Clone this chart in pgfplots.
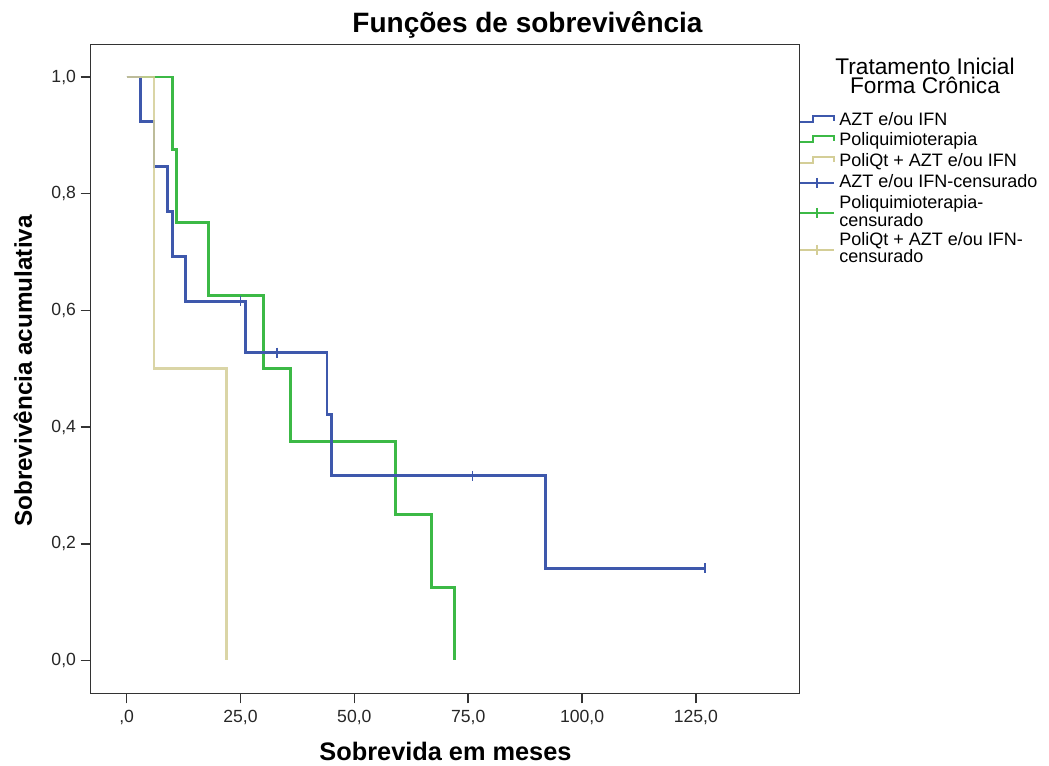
\documentclass[border=0pt]{standalone}
\usepackage{pgfplots}
\pgfplotsset{compat=1.18}
\usepackage{fontspec}
\setmainfont{Liberation Sans}
\definecolor{cblue}{RGB}{62,88,172}
\definecolor{cgreen}{RGB}{60,185,70}
\definecolor{ctan}{RGB}{212,206,151}
\definecolor{caxis}{RGB}{51,51,51}
\begin{document}
\begin{tikzpicture}
\begin{axis}[
  at={(68.0pt,53.8pt)}, anchor=south west,
  scale only axis, width=531.45pt, height=486.45pt,
  xmin=-7.9, xmax=147.7, ymin=-0.0562, ymax=1.0554,
  axis line style={caxis, line width=1.1pt},
  tick style={caxis, line width=1.1pt},
  tick align=outside, major tick length=7.5pt,
  xtick pos=bottom, ytick pos=left,
  xtick={0,25,50,75,100,125},
  xticklabels={{,0},{25,0},{50,0},{75,0},{100,0},{125,0}},
  ytick={0,0.2,0.4,0.6,0.8,1},
  yticklabels={{0,0},{0,2},{0,4},{0,6},{0,8},{1,0}},
  ticklabel style={font=\fontsize{13.2}{15}\selectfont, text=black!85},
  xticklabel style={yshift=-1.5pt},
  /pgf/number format/assume math mode=true,
]
% Poliquimioterapia
\addplot[cgreen, line width=2.2pt, const plot] coordinates {
  (0,1) (10,0.875) (11,0.75) (18,0.625) (30,0.5) (36,0.375) (59,0.25) (67,0.125) (72,0)
};
% AZT e/ou IFN
\addplot[cblue, line width=2.2pt, const plot] coordinates {
  (0,1) (3,0.9231) (6,0.8462) (9,0.7692) (10,0.6923) (13,0.6154) (26,0.5275) (44,0.4220) (45,0.3165) (92,0.1582) (127,0.1582)
};
% censored AZT
\addplot[only marks, mark=|, mark size=3.75pt, cblue, mark options={line width=0.9pt}] coordinates {
  (25,0.6154) (33,0.5275) (76,0.3165) (127,0.1582)
};
% PoliQt + AZT
\addplot[ctan, line width=2.2pt, const plot, draw opacity=0.85] coordinates {
  (0,1) (6,0.5) (22,0)
};
\end{axis}
\begin{scope}[x=0.75pt, y=-0.75pt, yshift=573.75pt]
\node[anchor=base, font={\fontsize{21}{25}\selectfont\bfseries}] at (527.5,33) {Funções de sobrevivência};
\node[anchor=base, font={\fontsize{19}{22}\selectfont\bfseries}] at (445.5,760) {Sobrevida em meses};
\node[rotate=90, anchor=base, font={\fontsize{18.2}{22}\selectfont\bfseries}] at (32,371) {Sobrevivência acumulativa};
\node[anchor=base, align=center, inner sep=0pt, font={\fontsize{17}{14.25}\selectfont}] at (925,94) {Tratamento Inicial\\Forma Crônica};
\begin{scope}[every node/.style={anchor=base west, inner sep=0pt, align=left, font={\fontsize{13.5}{11.25}\selectfont}}]
\node at (839,126) {AZT e/ou IFN};
\node at (839,146) {Poliquimioterapia};
\node at (839,167) {PoliQt + AZT e/ou IFN};
\node at (839,188) {AZT e/ou IFN-censurado};
\node at (839,227) {Poliquimioterapia-\\censurado};
\node at (839,263) {PoliQt + AZT e/ou IFN-\\censurado};
\end{scope}
\draw[cblue, line width=2.2pt] (800,122)--(813,122)--(813,116)--(834,116)--(834,121);
\draw[cgreen, line width=2.2pt] (800,142)--(813,142)--(813,136)--(834,136)--(834,141);
\draw[ctan, line width=2.2pt] (800,163)--(813,163)--(813,157)--(834,157)--(834,162);
\draw[cblue, line width=0.8pt] (800,183)--(834,183) (817,178)--(817,188);
\draw[cgreen, line width=0.8pt] (800,213)--(834,213) (817,208)--(817,218);
\draw[ctan, line width=0.8pt] (800,250)--(834,250) (817,245)--(817,255);
\pgfresetboundingbox
\path[use as bounding box] (0,0) rectangle (1049,765);
\end{scope}
\end{tikzpicture}
\end{document}
